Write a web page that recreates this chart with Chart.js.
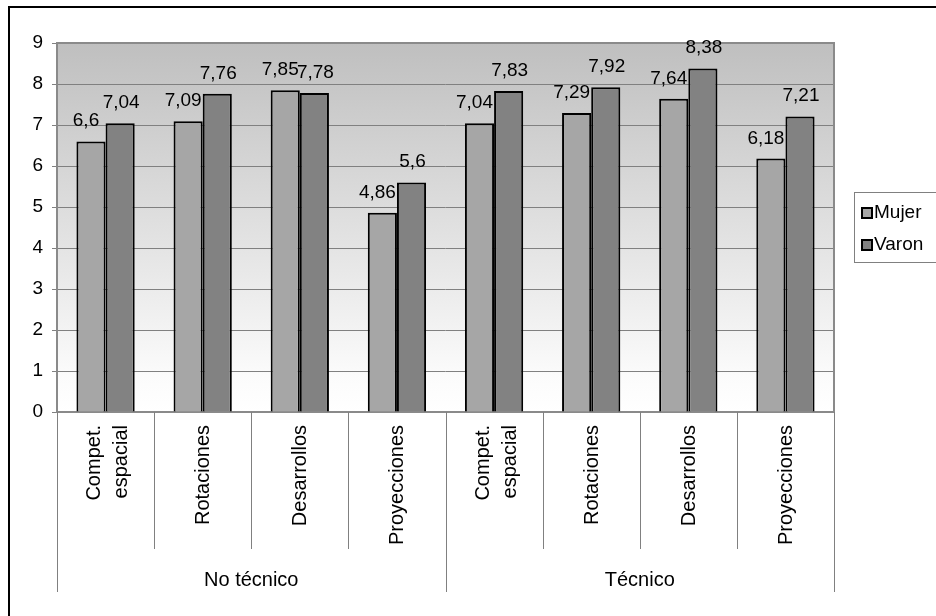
<!DOCTYPE html>
<html>
<head>
<meta charset="utf-8">
<script src="https://cdn.jsdelivr.net/npm/chart.js@4.4.0/dist/chart.umd.min.js"></script>
<style>
  html, body { margin: 0; padding: 0; background: #fff; }
  #wrap { width: 936px; height: 616px; position: relative; }
</style>
</head>
<body>
<div id="wrap"><canvas id="chart" width="936" height="616"></canvas></div>
<script>
// data
const groups = ['No técnico', 'Técnico'];
const categories = [
  ['Compet.', 'espacial'], 'Rotaciones', 'Desarrollos', 'Proyecciones',
  ['Compet.', 'espacial'], 'Rotaciones', 'Desarrollos', 'Proyecciones'
];
const mujer = [6.6, 7.09, 7.85, 4.86, 7.04, 7.29, 7.64, 6.18];
const varon = [7.04, 7.76, 7.78, 5.6, 7.83, 7.92, 8.38, 7.21];
const yMin = 0, yMax = 9, yStep = 1;

const FONT = '"Liberation Sans", Arial, sans-serif';
const fmt = v => String(v).replace('.', ',');

// background gradient, plot frame, separators, axis texts, value labels, legend
const decor = {
  id: 'decor',
  beforeDraw(chart) {
    const { ctx, chartArea: a } = chart;
    const g = ctx.createLinearGradient(0, a.top, 0, a.bottom);
    g.addColorStop(0, '#bfbfbf');
    g.addColorStop(0.9, '#fbfbfb');
    g.addColorStop(1, '#ffffff');
    ctx.save();
    ctx.fillStyle = g;
    ctx.fillRect(a.left, a.top, a.right - a.left, a.bottom - a.top);
    ctx.restore();
  },
  beforeDatasetsDraw(chart) {
    const { ctx, chartArea: a, scales: { x } } = chart;
    ctx.save();
    // plot frame
    ctx.strokeStyle = '#8a8a8a';
    ctx.lineWidth = 2;
    ctx.strokeRect(a.left, a.top, a.right - a.left, a.bottom - a.top);
    // separators under the axis
    const half = (x.getPixelForValue(1) - x.getPixelForValue(0)) / 2;
    ctx.strokeStyle = '#808080';
    ctx.lineWidth = 1;
    for (let i = 0; i <= categories.length; i++) {
      const px = Math.round(x.getPixelForValue(i) - half) + 0.5;
      const isGroup = i % 4 === 0;
      ctx.beginPath();
      ctx.moveTo(px, a.bottom);
      ctx.lineTo(px, a.bottom + (isGroup ? 180 : 137));
      ctx.stroke();
    }
    // category names, rotated
    ctx.fillStyle = '#000';
    ctx.font = '20px ' + FONT;
    ctx.textAlign = 'right';
    ctx.textBaseline = 'middle';
    categories.forEach((lab, i) => {
      const lines = Array.isArray(lab) ? lab : [lab];
      const cx = x.getPixelForValue(i);
      lines.forEach((ln, li) => {
        const off = lines.length > 1 ? (li === 0 ? -11 : 16) : 1;
        ctx.save();
        ctx.translate(cx + off, a.bottom + 13);
        ctx.rotate(-Math.PI / 2);
        ctx.fillText(ln, 0, 0);
        ctx.restore();
      });
    });
    // group names
    ctx.font = '20px ' + FONT;
    ctx.textAlign = 'center';
    ctx.textBaseline = 'middle';
    groups.forEach((name, gi) => {
      const l = x.getPixelForValue(gi * 4) - half;
      const r = x.getPixelForValue(gi * 4 + 3) + half;
      ctx.fillText(name, (l + r) / 2, a.bottom + 168);
    });
    ctx.restore();
  },
  afterDatasetsDraw(chart) {
    const { ctx } = chart;
    ctx.save();
    ctx.fillStyle = '#000';
    ctx.font = '19px ' + FONT;
    ctx.textAlign = 'center';
    ctx.textBaseline = 'alphabetic';
    chart.data.datasets.forEach((ds, di) => {
      const nudge = di === 0 ? -5 : 1;
      chart.getDatasetMeta(di).data.forEach((bar, i) => {
        ctx.fillText(fmt(ds.data[i]), bar.x + nudge, bar.y - 15);
      });
    });
    // legend
    ctx.strokeStyle = '#808080';
    ctx.lineWidth = 1;
    ctx.strokeRect(854.5, 192.5, 100, 70);
    ctx.font = '19px ' + FONT;
    ctx.textAlign = 'left';
    ctx.textBaseline = 'middle';
    chart.data.datasets.forEach((ds, di) => {
      const cy = 213 + di * 32;
      ctx.fillStyle = ds.backgroundColor;
      ctx.fillRect(862, cy - 5, 10, 10);
      ctx.strokeStyle = '#000';
      ctx.lineWidth = 2;
      ctx.strokeRect(862, cy - 5, 10, 10);
      ctx.fillStyle = '#000';
      ctx.fillText(ds.label, 874, cy);
    });
    // outer frame (left and top edges visible)
    ctx.strokeStyle = '#000';
    ctx.lineWidth = 2;
    ctx.beginPath();
    ctx.moveTo(9, 616);
    ctx.lineTo(9, 7);
    ctx.lineTo(936, 7);
    ctx.stroke();
    ctx.restore();
  }
};

new Chart(document.getElementById('chart'), {
  type: 'bar',
  data: {
    labels: categories,
    datasets: [
      { label: 'Mujer', data: mujer, backgroundColor: '#a6a6a6', borderColor: '#000', borderWidth: 2 },
      { label: 'Varon', data: varon, backgroundColor: '#828282', borderColor: '#000', borderWidth: 2 }
    ]
  },
  options: {
    responsive: false,
    devicePixelRatio: 1,
    animation: false,
    layout: { padding: { left: 10, top: 43, right: 102, bottom: 0 } },
    datasets: { bar: { barPercentage: 1, categoryPercentage: 0.6 } },
    plugins: { legend: { display: false }, tooltip: { enabled: false } },
    scales: {
      x: {
        grid: { display: false },
        border: { display: false },
        ticks: { display: false },
        afterFit: s => { s.height = 204; }
      },
      y: {
        min: yMin, max: yMax,
        grid: { color: '#808080', lineWidth: 1, tickLength: 5, tickColor: '#808080' },
        border: { display: false },
        ticks: {
          stepSize: yStep, color: '#000', padding: 9,
          font: { family: FONT, size: 19 }
        },
        afterFit: s => { s.width = 47; }
      }
    }
  },
  plugins: [decor]
});
</script>
</body>
</html>
